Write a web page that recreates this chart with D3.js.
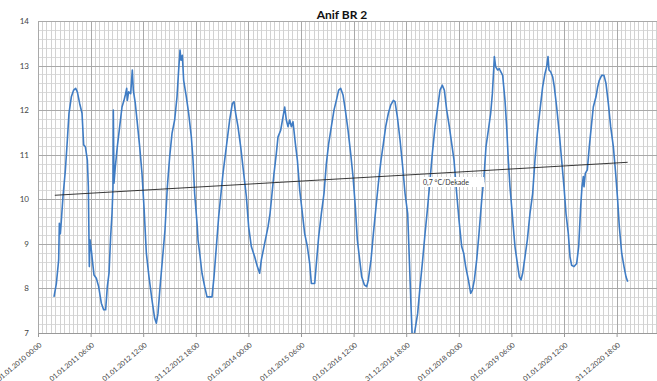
<!DOCTYPE html>
<html>
<head>
<meta charset="utf-8">
<script src="https://cdn.jsdelivr.net/npm/d3@7"></script>
<style>
  body { margin: 0; background: #fff; }
  svg { display: block; font-family: Lato, "Open Sans", sans-serif; }
</style>
</head>
<body>
<div id="chart"></div>
<script>
// decimal year (365.25 d) and temperature in °C
var years = [
  2010.304, 2010.349, 2010.393, 2010.406, 2010.425, 2010.444, 2010.475, 2010.520, 2010.558, 2010.589,
  2010.634, 2010.678, 2010.716, 2010.748, 2010.792, 2010.837, 2010.868, 2010.900, 2010.938, 2010.957,
  2010.976, 2010.989, 2011.014, 2011.033, 2011.065, 2011.109, 2011.153, 2011.204, 2011.248, 2011.286,
  2011.318, 2011.350, 2011.381, 2011.407, 2011.426, 2011.432, 2011.445, 2011.470, 2011.508, 2011.553,
  2011.597, 2011.635, 2011.660, 2011.686, 2011.698, 2011.724, 2011.762, 2011.793, 2011.812, 2011.850,
  2011.882, 2011.933, 2011.977, 2012.015, 2012.060, 2012.110, 2012.167, 2012.218, 2012.250, 2012.281,
  2012.326, 2012.376, 2012.414, 2012.459, 2012.503, 2012.548, 2012.598, 2012.643, 2012.674, 2012.700,
  2012.719, 2012.744, 2012.769, 2012.820, 2012.864, 2012.915, 2012.947, 2012.978, 2013.029,
  2013.042, 2013.074, 2013.118, 2013.169, 2013.213, 2013.264, 2013.308, 2013.346, 2013.391, 2013.435,
  2013.473, 2013.517, 2013.581, 2013.644, 2013.695, 2013.726, 2013.758, 2013.802, 2013.853, 2013.904,
  2013.961, 2014.005, 2014.056, 2014.119, 2014.170, 2014.214, 2014.246, 2014.309, 2014.373, 2014.411,
  2014.449, 2014.487, 2014.531, 2014.563, 2014.614, 2014.658, 2014.690, 2014.721, 2014.753, 2014.785,
  2014.816, 2014.848, 2014.893, 2014.931, 2014.975, 2015.019, 2015.070, 2015.121, 2015.165, 2015.197,
  2015.260, 2015.298, 2015.336, 2015.387, 2015.437, 2015.482, 2015.526, 2015.577, 2015.627, 2015.672,
  2015.716, 2015.754, 2015.799, 2015.843, 2015.894, 2015.944, 2015.989, 2016.033, 2016.071,
  2016.154, 2016.204, 2016.249, 2016.280, 2016.331, 2016.376, 2016.420, 2016.471, 2016.521, 2016.566,
  2016.610, 2016.661, 2016.705, 2016.756, 2016.787, 2016.832, 2016.883, 2016.933, 2016.978, 2017.028,
  2017.060, 2017.092, 2017.117, 2017.142, 2017.168, 2017.218, 2017.263, 2017.313, 2017.358, 2017.408,
  2017.453, 2017.497, 2017.548, 2017.599, 2017.643, 2017.687, 2017.725, 2017.770, 2017.820, 2017.865,
  2017.909, 2017.960, 2018.004, 2018.055, 2018.093, 2018.131, 2018.182, 2018.226, 2018.258, 2018.296,
  2018.340, 2018.384, 2018.435, 2018.479, 2018.517, 2018.562, 2018.606, 2018.638, 2018.663, 2018.676,
  2018.701, 2018.739, 2018.771,
  2018.783, 2018.834, 2018.878, 2018.910, 2018.941, 2018.973, 2019.005, 2019.036, 2019.068, 2019.113,
  2019.151, 2019.182, 2019.214, 2019.258, 2019.303, 2019.353, 2019.404, 2019.448, 2019.493, 2019.543,
  2019.594, 2019.638, 2019.670, 2019.696, 2019.715, 2019.746, 2019.784, 2019.816, 2019.860, 2019.911,
  2019.955, 2020.000, 2020.038, 2020.082, 2020.114, 2020.145, 2020.190, 2020.241, 2020.279, 2020.317,
  2020.342, 2020.367, 2020.380, 2020.405, 2020.443, 2020.481, 2020.519, 2020.557, 2020.608, 2020.640,
  2020.671, 2020.716, 2020.760, 2020.798, 2020.843, 2020.887, 2020.938, 2020.982, 2021.020, 2021.052,
  2021.097, 2021.141, 2021.179, 2021.211
];
var temps = [
  7.81, 8.11, 8.64, 9.46, 9.23, 9.53, 10.06, 10.65, 11.33, 11.93,
  12.30, 12.45, 12.49, 12.41, 12.15, 11.93, 11.22, 11.18, 10.88, 10.28,
  8.49, 9.09, 8.86, 8.64, 8.30, 8.23, 8.04, 7.67, 7.52, 7.52,
  8.04, 8.34, 9.16, 9.68, 10.28, 12.00, 10.36, 10.73, 11.18, 11.63,
  12.07, 12.22, 12.34, 12.49, 12.22, 12.41, 12.37, 12.90, 12.45, 12.15,
  11.78, 11.18, 10.58, 9.83, 8.79, 8.26, 7.74, 7.33, 7.22, 7.44,
  8.11, 8.79, 9.31, 10.28, 10.95, 11.48, 11.78, 12.30, 12.90, 13.35,
  13.12, 13.23, 12.67, 12.30, 11.93, 11.40, 10.88, 10.13, 9.38,
  9.09, 8.79, 8.34, 8.04, 7.81, 7.81, 7.81, 8.26, 8.94, 9.61,
  10.06, 10.58, 11.18, 11.78, 12.15, 12.19, 11.93, 11.63, 11.18, 10.65,
  10.06, 9.38, 8.94, 8.71, 8.49, 8.34, 8.64, 9.01, 9.38, 9.68,
  10.13, 10.58, 11.03, 11.40, 11.55, 11.85, 12.07, 11.78, 11.63, 11.78,
  11.63, 11.74, 11.25, 10.88, 10.21, 9.76, 9.23, 8.94, 8.56, 8.11,
  8.11, 8.64, 9.16, 9.68, 10.13, 10.80, 11.25, 11.63, 12.00, 12.22,
  12.45, 12.49, 12.34, 12.00, 11.55, 11.03, 10.51, 9.83, 9.09,
  8.26, 8.08, 8.04, 8.19, 8.64, 9.23, 9.76, 10.36, 10.88, 11.25,
  11.63, 11.93, 12.11, 12.22, 12.19, 11.85, 11.33, 10.73, 10.13, 9.68,
  8.64, 7.59, 6.85, 6.90, 7.07, 7.44, 8.04, 8.64, 9.23, 9.83,
  10.43, 11.03, 11.63, 12.07, 12.45, 12.56, 12.45, 12.00, 11.63, 11.25,
  10.88, 10.13, 9.53, 8.94, 8.79, 8.49, 8.19, 7.89, 7.96, 8.19,
  8.64, 9.23, 9.98, 10.51, 11.18, 11.55, 11.93, 12.37, 12.90, 13.20,
  12.97, 12.90, 12.93,
  12.90, 12.78, 12.22, 11.63, 10.88, 10.28, 9.83, 9.38, 8.94, 8.56,
  8.26, 8.19, 8.34, 8.71, 9.09, 9.68, 10.13, 10.88, 11.48, 12.00,
  12.52, 12.82, 12.97, 13.20, 12.90, 12.86, 12.75, 12.52, 12.07, 11.48,
  10.88, 10.28, 9.68, 9.23, 8.71, 8.52, 8.49, 8.56, 8.94, 9.83,
  10.28, 10.51, 10.28, 10.58, 10.66, 11.18, 11.63, 12.07, 12.30, 12.52,
  12.67, 12.78, 12.78, 12.60, 12.15, 11.63, 11.18, 10.58, 9.98, 9.38,
  8.79, 8.49, 8.26, 8.15
];
var trendYears = [2010.32, 2021.21];
var trendTemps = [10.09, 10.83];
var trendLabel = "0,7 °C/Dekade";
var tickLabels = [
  "01.01.2010 00:00", "01.01.2011 06:00", "01.01.2012 12:00", "31.12.2012 18:00",
  "01.01.2014 00:00", "01.01.2015 06:00", "01.01.2016 12:00", "31.12.2016 18:00",
  "01.01.2018 00:00", "01.01.2019 06:00", "01.01.2020 12:00", "31.12.2020 18:00"
];
var yTicks = [7, 8, 9, 10, 11, 12, 13, 14];
var title = "Anif BR 2";

var W = 657, H = 381;
var margin = {top: 21, right: 0, bottom: 48, left: 38};
var width = W - margin.left - margin.right;
var height = H - margin.top - margin.bottom;

var parseTick = d3.utcParse("%d.%m.%Y %H:%M");
var t0 = Date.UTC(2010, 0, 1);
function toDate(yr) { return new Date(t0 + (yr - 2010) * 365.25 * 864e5); }

var x = d3.scaleUtc()
  .domain([toDate(2010), toDate(2021.768)])
  .range([0, width]);
var y = d3.scaleLinear()
  .domain([7, 14])
  .range([height, 0]);

var svg = d3.select("#chart").append("svg")
  .attr("width", W)
  .attr("height", H);

svg.append("text")
  .attr("x", 342).attr("y", 19)
  .attr("text-anchor", "middle")
  .style("font-size", "12px").style("font-weight", "bold").style("fill", "#111")
  .text(title);

var g = svg.append("g")
  .attr("transform", "translate(" + margin.left + "," + margin.top + ")");

// minor grid
g.append("g").selectAll("line")
  .data(d3.range(7, 14.001, 0.2))
  .enter().append("line")
  .attr("x1", 0).attr("x2", width)
  .attr("y1", d => Math.round(y(d)) + 0.5).attr("y2", d => Math.round(y(d)) + 0.5)
  .attr("stroke", "#dadada");
g.append("g").selectAll("line")
  .data(d3.utcMonth.range(x.domain()[0], x.domain()[1]))
  .enter().append("line")
  .attr("x1", d => Math.round(x(d)) + 0.5).attr("x2", d => Math.round(x(d)) + 0.5)
  .attr("y1", 0).attr("y2", height)
  .attr("stroke", "#d2d2d2");

// major grid
g.append("g").selectAll("line")
  .data(yTicks)
  .enter().append("line")
  .attr("x1", 0).attr("x2", width)
  .attr("y1", d => Math.round(y(d)) + 0.5).attr("y2", d => Math.round(y(d)) + 0.5)
  .attr("stroke", "#a9a9a9");

var tickDates = tickLabels.map(parseTick);
g.append("g").selectAll("line")
  .data(tickDates)
  .enter().append("line")
  .attr("x1", d => Math.round(x(d)) + 0.5).attr("x2", d => Math.round(x(d)) + 0.5)
  .attr("y1", 0).attr("y2", height)
  .attr("stroke", "#a9a9a9");

// y axis labels
var yAxis = g.append("g")
  .call(d3.axisLeft(y).tickValues(yTicks).tickSize(0).tickPadding(9).tickFormat(d3.format("d")));
yAxis.select(".domain").remove();
yAxis.selectAll("text").style("font-size", "8px").style("fill", "#444").style("font-family", "Lato, sans-serif");

// x axis
var xAxis = g.append("g")
  .attr("transform", "translate(0," + height + ")")
  .call(d3.axisBottom(x).tickValues(tickDates).tickSize(4).tickFormat((d, i) => tickLabels[i]));
xAxis.select(".domain").attr("stroke", "#999");
xAxis.selectAll("line").attr("stroke", "#999");
xAxis.selectAll("text")
  .style("font-size", "7px").style("fill", "#444").style("font-family", "Lato, sans-serif")
  .style("text-anchor", "end")
  .attr("x", 0).attr("y", 0).attr("dy", "0.35em")
  .attr("transform", "translate(2,11) rotate(-40)");

// series
g.append("clipPath").attr("id", "clip")
  .append("rect").attr("width", width).attr("height", height);

var pts = years.map((yr, i) => ({date: toDate(yr), v: temps[i]}));
var line = d3.line()
  .x(d => x(d.date))
  .y(d => y(d.v));

g.append("path")
  .datum(pts)
  .attr("clip-path", "url(#clip)")
  .attr("fill", "none")
  .attr("stroke", "#3f7cc4")
  .attr("stroke-width", 1.6)
  .attr("stroke-linejoin", "round")
  .attr("d", line);

var trend = trendYears.map((yr, i) => ({date: toDate(yr), v: trendTemps[i]}));
g.append("path")
  .datum(trend)
  .attr("fill", "none")
  .attr("stroke", "#222")
  .attr("stroke-width", 0.9)
  .attr("d", line);

// trend label
var lbl = g.append("g").attr("transform", "translate(" + (420 - margin.left) + "," + (177 - margin.top) + ")");
lbl.append("rect").attr("width", 64).attr("height", 10).attr("fill", "#fff");
lbl.append("text")
  .attr("x", 3).attr("y", 7.5)
  .style("font-size", "7px").style("fill", "#333")
  .text(trendLabel);
</script>
</body>
</html>
